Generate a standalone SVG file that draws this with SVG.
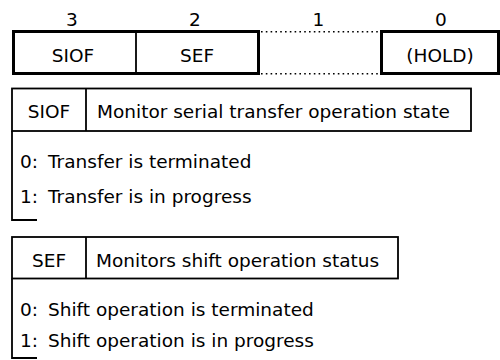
<svg xmlns="http://www.w3.org/2000/svg" width="500" height="360" viewBox="0 0 500 360">
<style>
text{font-family:"DejaVu Sans","Liberation Sans",sans-serif;font-size:18.5px;fill:#000}
.c{text-anchor:middle}
.thick{fill:none;stroke:#000;stroke-width:3}
.thin{fill:none;stroke:#000;stroke-width:1.8}
.dot{fill:none;stroke:#000;stroke-width:1.6;stroke-dasharray:1.6 3.2}
</style>
<rect width="500" height="360" fill="#fff"/>
<g id="register">
  <text class="c" x="72" y="26">3</text>
  <text class="c" x="195" y="26">2</text>
  <text class="c" x="318.5" y="26">1</text>
  <text class="c" x="441" y="26">0</text>
  <rect class="thick" x="13.5" y="31.5" width="245" height="42"/>
  <line class="thin" x1="136" y1="31.5" x2="136" y2="73.5"/>
  <line class="dot" x1="261" y1="31.7" x2="380" y2="31.7"/>
  <line class="dot" x1="261" y1="73.7" x2="380" y2="73.7"/>
  <rect class="thick" x="381.5" y="31.5" width="117" height="42"/>
  <text class="c" x="73" y="62">SIOF</text>
  <text class="c" x="197" y="62">SEF</text>
  <text class="c" x="440" y="62">(HOLD)</text>
</g>
<g id="siof">
  <rect class="thin" x="12" y="88.5" width="459" height="42.5"/>
  <line class="thin" x1="86" y1="88.5" x2="86" y2="131"/>
  <path class="thin" d="M12,131 V220 H37"/>
  <text class="c" x="49" y="118">SIOF</text>
  <text x="97" y="118">Monitor serial transfer operation state</text>
  <text x="20" y="168">0:<tspan x="48">Transfer is terminated</tspan></text>
  <text x="20" y="203">1:<tspan x="48">Transfer is in progress</tspan></text>
</g>
<g id="sef">
  <rect class="thin" x="12" y="237" width="386" height="41.5"/>
  <line class="thin" x1="86" y1="237" x2="86" y2="278.5"/>
  <path class="thin" d="M12,278.5 V358 H37"/>
  <text class="c" x="49" y="266.5">SEF</text>
  <text x="96" y="266.5">Monitors shift operation status</text>
  <text x="20" y="316">0:<tspan x="48">Shift operation is terminated</tspan></text>
  <text x="20" y="347">1:<tspan x="48">Shift operation is in progress</tspan></text>
</g>
<g id="connectors"/>
</svg>
